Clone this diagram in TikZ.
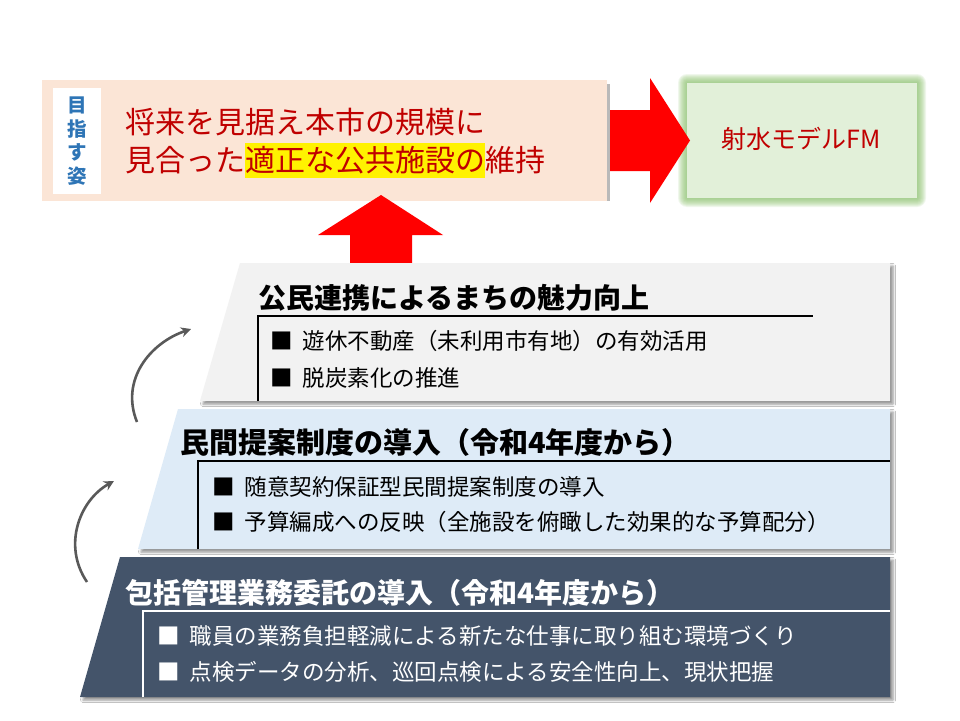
\documentclass[tikz,border=0pt]{standalone}
\usepackage{fontspec}
\setmainfont{Noto Sans CJK JP}
\usetikzlibrary{arrows.meta,shadows.blur}
\definecolor{pinkbg}{HTML}{FBE5D6}
\definecolor{greenbg}{HTML}{E2F0D9}
\definecolor{glow}{HTML}{8CC26E}
\definecolor{darkred}{HTML}{C00000}
\definecolor{goalblue}{HTML}{2E75B6}
\definecolor{tgray}{HTML}{F2F2F2}
\definecolor{tblue}{HTML}{DEEBF7}
\definecolor{tslate}{HTML}{44546A}
\definecolor{curvegray}{HTML}{595959}
\definecolor{arrowred}{HTML}{FF0000}
\newcommand{\bsq}{■\hspace{0.45em}}
\tikzset{
  tshadow/.style={blur shadow={shadow xshift=3pt, shadow yshift=-3pt, shadow blur radius=2.5pt, shadow opacity=45}},
  titletext/.style={anchor=base west, inner sep=0pt, font=\bfseries\fontsize{28}{32}\selectfont},
  bullettext/.style={anchor=base west, inner sep=0pt, font=\fontsize{22.5}{26}\selectfont},
  goaltext/.style={anchor=base west, inner sep=0pt, text=darkred, font=\fontsize{30}{36}\selectfont},
  bracket/.style={line width=1.6pt},
  curvearrow/.style={draw=curvegray, line width=2.6pt, -{Stealth[length=10pt,width=10pt]}},
  blockarrow/.style={fill=arrowred, draw=none}
}
\begin{document}
\begin{tikzpicture}[x=1pt,y=-1pt]
\useasboundingbox[fill=white] (0,0) rectangle (960,720);

% ---- goal box ----
\fill[gray!55] (606,84) rectangle (609.5,201);
\node (goal) [anchor=north west, fill=pinkbg, minimum width=565pt, minimum height=121pt, inner sep=0pt] at (42,80) {};
\node (goallabel) [anchor=north west, fill=white, minimum width=48pt, minimum height=106pt, inner sep=0pt] at (53,88) {};
\node (goalword) [align=center, text=goalblue, inner sep=0pt, font=\bfseries\fontsize{19.5}{23.5}\selectfont] at (goallabel.center) {目\\指\\す\\姿};
\node (goalA) [goaltext] at (125,133.4) {将来を見据え本市の規模に};
\node (goalB) [goaltext] at (125,171.4) {見合った{\setlength{\fboxsep}{0pt}\colorbox{yellow}{\rule[-0.22em]{0pt}{1.17em}適正な公共施設の}}維持};

% ---- FM box with green glow ----
\foreach \g in {9,8,...,1} {
  \fill[glow, opacity=0.13, rounded corners=\g pt] (687-\g,83-\g) rectangle (917+\g,198+\g);
}
\node (fm) [anchor=north west, fill=greenbg, minimum width=230pt, minimum height=115pt, inner sep=0pt] at (687,83) {};
\node (fmtext) [anchor=base, inner sep=0pt, text=darkred, font=\fontsize{25}{30}\selectfont] at (801,148.5) {射水モデルFM};

% ---- right block arrow ----
\path[blockarrow] (610,110) -- (650,110) -- (650,78) -- (690,140.5) -- (650,203) -- (650,171) -- (610,171) -- cycle;

% ---- up block arrow ----
\path[blockarrow] (350,273) -- (350,235) -- (318,235) -- (381,195) -- (443,235) -- (412,235) -- (412,273) -- cycle;

% ---- tier 1 ----
\path[fill=tgray, tshadow] (240,263) -- (890,263) -- (890,401) -- (200,401) -- cycle;
\draw[bracket] (258,401) -- (258,316) -- (813,316);
\node (t1title) [titletext] at (258,308) {公民連携によるまちの魅力向上};
\node (t1a) [bullettext] at (270,349.4) {\bsq 遊休不動産（未利用市有地）の有効活用};
\node (t1b) [bullettext] at (270,386.4) {\bsq 脱炭素化の推進};

% ---- tier 2 ----
\path[fill=tblue, tshadow] (178,409) -- (890,409) -- (890,549) -- (138,549) -- cycle;
\draw[bracket] (198,549) -- (198,461) -- (890,461);
\node (t2title) [titletext, font=\bfseries\fontsize{29}{32}\selectfont] at (180,453) {民間提案制度の導入（令和4年度から）};
\node (t2a) [bullettext] at (212,495.4) {\bsq 随意契約保証型民間提案制度の導入};
\node (t2b) [bullettext] at (212,530.4) {\bsq 予算編成への反映（全施設を俯瞰した効果的な予算配分）};

% ---- tier 3 ----
\path[fill=tslate, tshadow] (120,557) -- (890,557) -- (890,697) -- (80,697) -- cycle;
\draw[bracket, white] (143,697) -- (143,611) -- (890,611);
\node (t3title) [titletext, text=white] at (125,603) {包括管理業務委託の導入（令和4年度から）};
\node (t3a) [bullettext, text=white] at (157,644.4) {\bsq 職員の業務負担軽減による新たな仕事に取り組む環境づくり};
\node (t3b) [bullettext, text=white] at (157,680.4) {\bsq 点検データの分析、巡回点検による安全性向上、現状把握};

% ---- curved arrows ----
\coordinate (c1s) at (137,422);
\coordinate (c1e) at (191,329);
\coordinate (c2s) at (87,582);
\coordinate (c2e) at (114,481);
\draw[curvearrow] (c1s) .. controls (120,380) and (150,343) .. (c1e);
\draw[curvearrow] (c2s) .. controls (62,545) and (80,500) .. (c2e);
\end{tikzpicture}
\end{document}
